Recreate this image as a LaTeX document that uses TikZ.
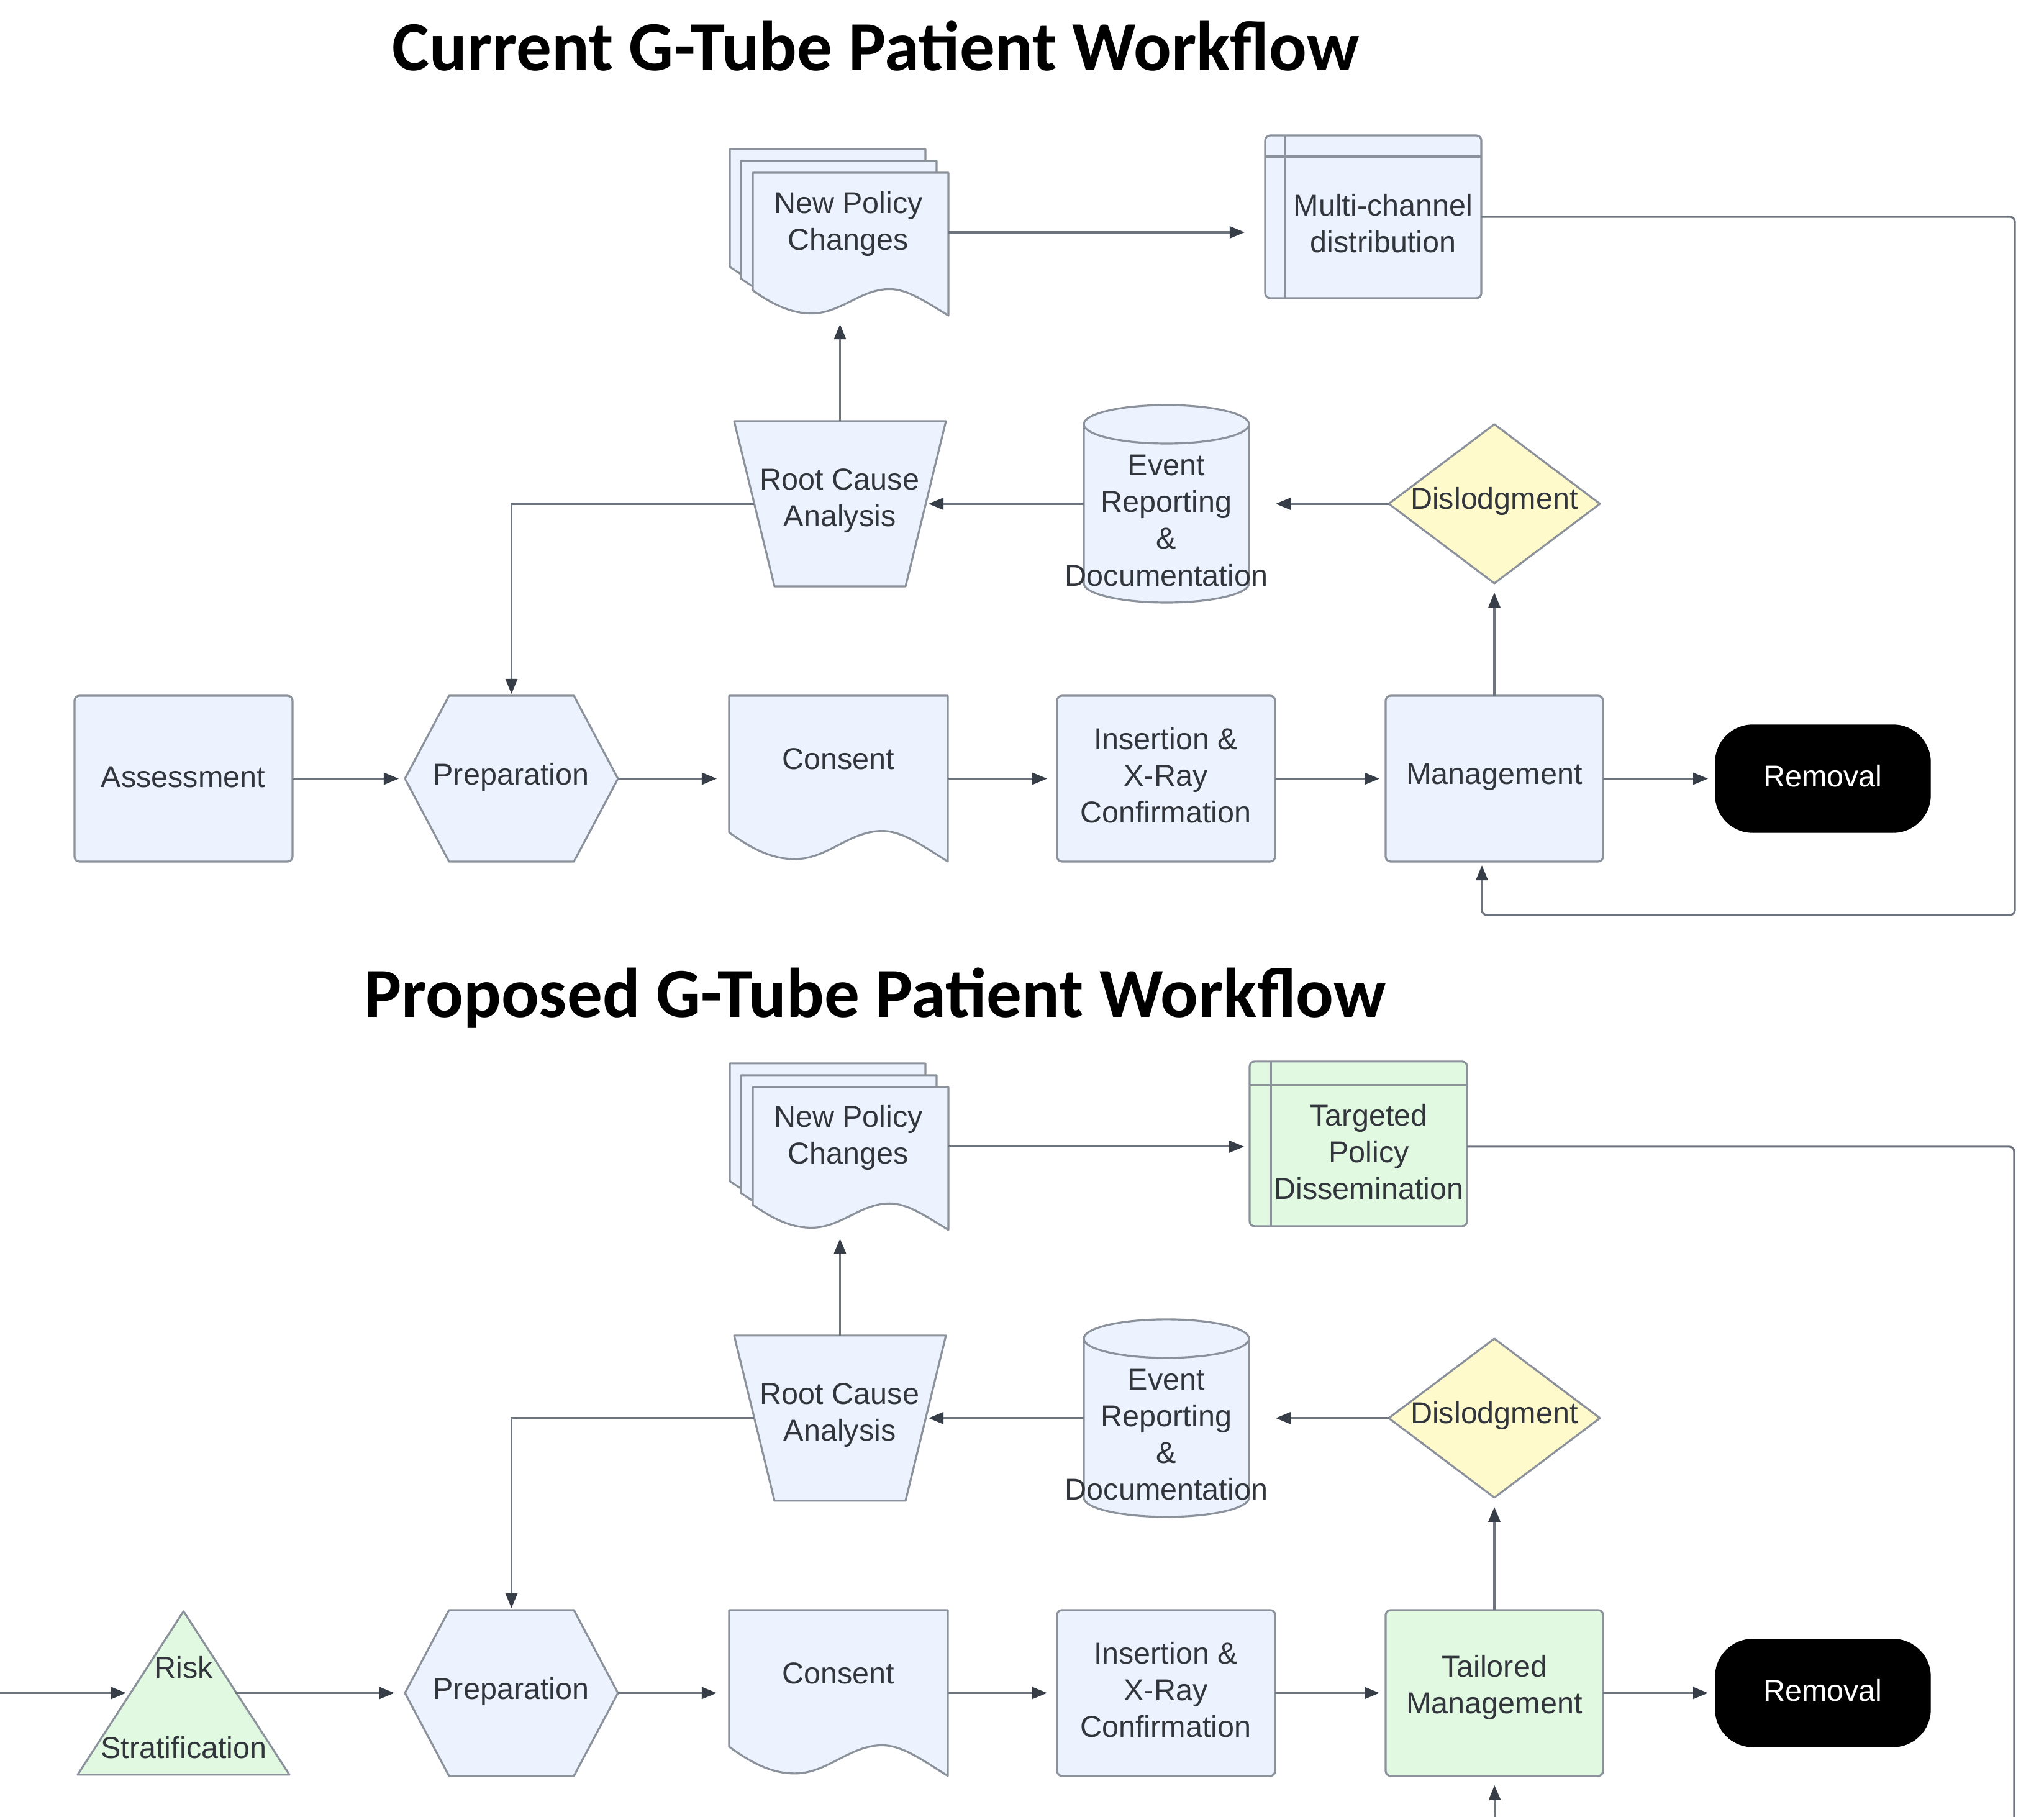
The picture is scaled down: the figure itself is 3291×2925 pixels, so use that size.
\documentclass[tikz,border=0pt]{standalone}
\usepackage{fontspec}
\setmainfont{Liberation Sans}
\newfontfamily\titlefont{Carlito}
\usetikzlibrary{arrows.meta,fit,calc}

\definecolor{blueF}{RGB}{236,243,254}
\definecolor{greenF}{RGB}{225,248,225}
\definecolor{yellowF}{RGB}{254,250,204}
\definecolor{edgeC}{RGB}{140,146,155}
\definecolor{lineC}{RGB}{110,116,125}
\definecolor{tipC}{RGB}{55,62,72}
\definecolor{txtC}{RGB}{50,54,60}

\tikzset{
 shp/.style={draw=edgeC, line width=0.9pt, fill=blueF, line join=round},
 gshp/.style={shp, fill=greenF},
 yshp/.style={shp, fill=yellowF},
 bb/.style={inner sep=0pt, outer sep=0pt, draw=none},
 txt/.style={font=\fontsize{13.8}{16.8}\selectfont, text=txtC, align=center, inner sep=0pt},
 ttl/.style={font=\titlefont\bfseries\fontsize{32.2}{36}\selectfont, text=black, inner sep=0pt, anchor=base},
 conn/.style={draw=lineC, line width=0.9pt, -{Triangle[length=0.24cm,width=0.19cm,color=tipC]}},
 plainconn/.style={draw=lineC, line width=0.9pt},
}

% document shape: style, x, y, w, h
\newcommand\docshape[5]{%
 \path[#1] (#2,#3) -- (#2+#4,#3) -- (#2+#4,#3+#5)
   .. controls (#2+0.88*#4,#3+0.90*#5) and (#2+0.79*#4,#3+0.815*#5) .. (#2+0.7*#4,#3+0.815*#5)
   .. controls (#2+0.55*#4,#3+0.815*#5) and (#2+0.45*#4,#3+0.985*#5) .. (#2+0.3*#4,#3+0.985*#5)
   .. controls (#2+0.18*#4,#3+0.985*#5) and (#2+0.08*#4,#3+0.90*#5) .. (#2,#3+0.824*#5) -- cycle;}
% internal storage: style, x, y, w, h, dx, dy
\newcommand\storeshape[7]{%
 \path[#1, rounded corners=0.08cm] (#2,#3) rectangle (#2+#4,#3+#5);
 \draw[draw=edgeC, line width=0.9pt] (#2+#6,#3) -- (#2+#6,#3+#5) (#2,#3+#7) -- (#2+#4,#3+#7);}
% hexagon: style, x, y, w, h, inset
\newcommand\hexshape[6]{%
 \path[#1] (#2+#6,#3) -- (#2+#4-#6,#3) -- (#2+#4,#3+0.5*#5) -- (#2+#4-#6,#3+#5) -- (#2+#6,#3+#5) -- (#2,#3+0.5*#5) -- cycle;}
% manual operation trapezoid: style, x, y, w, h, inset
\newcommand\trapshape[6]{%
 \path[#1] (#2,#3) -- (#2+#4,#3) -- (#2+#4-#6,#3+#5) -- (#2+#6,#3+#5) -- cycle;}
% cylinder: style, x, y, w, h, ry
\newcommand\cylshape[6]{%
 \path[#1] (#2,#3+#6) -- (#2,#3+#5-#6)
   .. controls (#2,#3+#5-#6+0.5523*#6) and (#2+0.5*#4-0.27615*#4,#3+#5) .. (#2+0.5*#4,#3+#5)
   .. controls (#2+0.5*#4+0.27615*#4,#3+#5) and (#2+#4,#3+#5-#6+0.5523*#6) .. (#2+#4,#3+#5-#6)
   -- (#2+#4,#3+#6)
   .. controls (#2+#4,#3+#6-0.5523*#6) and (#2+0.5*#4+0.27615*#4,#3) .. (#2+0.5*#4,#3)
   .. controls (#2+0.5*#4-0.27615*#4,#3) and (#2,#3+#6-0.5523*#6) .. (#2,#3+#6) -- cycle;
 \draw[draw=edgeC, line width=0.9pt] (#2,#3+#6)
   .. controls (#2,#3+#6+0.5523*#6) and (#2+0.5*#4-0.27615*#4,#3+2*#6) .. (#2+0.5*#4,#3+2*#6)
   .. controls (#2+0.5*#4+0.27615*#4,#3+2*#6) and (#2+#4,#3+#6+0.5523*#6) .. (#2+#4,#3+#6);}
% diamond: style, cx, cy, w, h
\newcommand\diashape[5]{%
 \path[#1] (#2,#3-0.5*#5) -- (#2+0.5*#4,#3) -- (#2,#3+0.5*#5) -- (#2-0.5*#4,#3) -- cycle;}
% triangle: style, x, y, w, h
\newcommand\trishape[5]{%
 \path[#1] (#2+0.5*#4,#3) -- (#2+#4,#3+#5) -- (#2,#3+#5) -- cycle;}

% shapes common to both workflows, suffix #1
\newcommand\midshapes[1]{%
 \docshape{shp}{1175}{240}{315}{230}
 \docshape{shp}{1193}{259}{315}{230}
 \docshape{shp}{1212}{278}{315}{230}
 \node[bb, fit={(1175,240) (1527,508)}] (npc#1) {};
 \node[txt] (npc#1t) at (1366,360) {New Policy\\Changes};
 \trapshape{shp}{1182}{678}{341}{266}{65}
 \node[bb, fit={(1182,678) (1523,944)}] (rca#1) {};
 \node[txt] (rca#1t) at (1352,806) {Root Cause\\Analysis};
 \coordinate (rca#1e) at (1491,811);
 \coordinate (rca#1w) at (1214,811);
 \cylshape{shp}{1745}{652}{266}{318}{31}
 \node[bb, fit={(1745,652) (2011,970)}] (ev#1) {};
 \node[txt] (ev#1t) at (1878,838) {Event\\Reporting\\\&\\Documentation};
 \diashape{yshp}{2406}{811}{340}{256}
 \node[bb, fit={(2236,683) (2576,939)}] (dis#1) {};
 \node[txt] (dis#1t) at (2406,807) {Dislodgment};
 \hexshape{shp}{652}{1120}{343}{267}{71}
 \node[bb, fit={(652,1120) (995,1387)}] (prep#1) {};
 \node[txt] (prep#1t) at (823,1251) {Preparation};
 \docshape{shp}{1174}{1120}{352}{267}
 \node[bb, fit={(1174,1120) (1526,1387)}] (cons#1) {};
 \node[txt] (cons#1t) at (1350,1222) {Consent};
 \path[shp, rounded corners=0.08cm] (1702,1120) rectangle (2053,1387);
 \node[bb, fit={(1702,1120) (2053,1387)}] (ins#1) {};
 \node[txt] (ins#1t) at (1877,1248) {Insertion \&\\X-Ray\\Confirmation};
 \path[draw=black, fill=black, rounded corners=0.6cm] (2762,1167) rectangle (3108,1340);
 \node[bb, fit={(2762,1167) (3108,1340)}] (rem#1) {};
 \node[txt, text=white] (rem#1t) at (2935,1249) {Removal};
}
\newcommand\midconns[1]{%
 \draw[conn, shorten >=0.14cm] (rca#1.north) -- (rca#1.north |- npc#1.south);
 \draw[conn, shorten >=0.04cm] (ev#1.west) -- (rca#1e);
 \draw[conn, shorten >=0.03cm] (rca#1w) -| (prep#1.north);
 \draw[conn, shorten >=0.43cm] (dis#1.west) -- (dis#1.west -| ev#1.east);
 \draw[conn, shorten >=0.2cm] (prep#1.east) -- (cons#1.west);
 \draw[conn, shorten >=0.16cm] (cons#1.east) -- (ins#1.west);
 \draw[conn, shorten >=0.1cm] (ins#1.east) -- (mg#1.west);
 \draw[conn, shorten >=0.15cm] (mg#1.north) -- (dis#1.south);
 \draw[conn, shorten >=0.12cm] (mg#1.east) -- (rem#1.west);
}

\begin{document}
\begin{tikzpicture}[x=0.01cm, y=-0.01cm]
\useasboundingbox (0,0) rectangle (3291,2925);
\fill[white] (0,0) rectangle (3291,2925);
\clip (0,0) rectangle (3291,2925);

% ---------------- Current workflow ----------------
\node[ttl] (title1) at (1410,114) {Current G-Tube Patient Workflow};

\midshapes{1}
\path[shp, rounded corners=0.08cm] (120,1120) rectangle (471,1387);
\node[bb, fit={(120,1120) (471,1387)}] (asm1) {};
\node[txt] (asm1t) at (295,1251) {Assessment};
\path[shp, rounded corners=0.08cm] (2231,1120) rectangle (2581,1387);
\node[bb, fit={(2231,1120) (2581,1387)}] (mg1) {};
\node[txt] (mg1t) at (2406,1251) {Management};
\storeshape{shp}{2037}{218}{348}{262}{32}{34}
\node[bb, fit={(2037,218) (2385,480)}] (mc1) {};
\node[txt] (mc1t) at (2227,360) {Multi-channel\\distribution};
\coordinate (fb1) at (3244,1473);

\midconns{1}
\draw[conn, shorten >=0.1cm] (asm1.east) -- (prep1.west);
\draw[conn, shorten >=0.33cm] (npc1.east) -- (npc1.east -| mc1.west);
\draw[conn, rounded corners=0.08cm, shorten >=0.06cm] (mc1.east) -| (fb1) -| ([xshift=-0.2cm]mg1.south);

% ---------------- Proposed workflow ----------------
\node[ttl] (title2) at (1409,1637) {Proposed G-Tube Patient Workflow};

\begin{scope}[yshift=-14.71cm]
\midshapes{2}
\trishape{gshp}{125}{1122}{341}{263}
\node[bb, fit={(125,1122) (466,1385)}] (risk2) {};
\node[txt] (risk2a) at (296,1212) {Risk};
\node[txt] (risk2b) at (296,1341) {Stratification};
\coordinate (in2) at (0,1253.5);
\coordinate (risk2w) at (213,1253.5);
\coordinate (risk2e) at (379,1253.5);
\path[gshp, rounded corners=0.08cm] (2231,1120) rectangle (2581,1387);
\node[bb, fit={(2231,1120) (2581,1387)}] (mg2) {};
\node[txt] (mg2t) at (2406,1245) {Tailored\\Management};
\storeshape{gshp}{2012}{237}{350}{265}{34}{38}
\node[bb, fit={(2012,237) (2362,502)}] (tp2) {};
\node[txt] (tp2t) at (2204,382) {Targeted\\Policy\\Dissemination};
\coordinate (fb2) at (3243,1460);
\coordinate (fb2b) at (2407,1460);

\midconns{2}
\draw[conn, shorten >=0.1cm] (in2) -- (risk2w);
\draw[conn, shorten >=0.17cm] (risk2e) -- (prep2.west);
\draw[conn, shorten >=0.09cm] (npc2.east) -- (npc2.east -| tp2.west);
\draw[plainconn, rounded corners=0.08cm] (npc2.east -| tp2.east) -| (fb2);
\draw[conn, shorten >=0.15cm] (fb2b) -- (mg2.south);
\end{scope}
\end{tikzpicture}
\end{document}
